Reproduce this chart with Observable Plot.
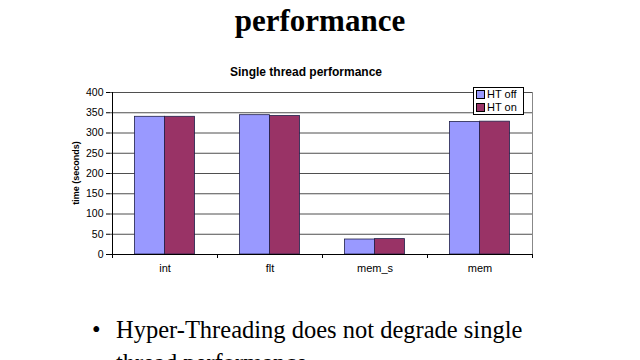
<!DOCTYPE html>
<html>
<head>
<meta charset="utf-8">
<script src="https://cdn.jsdelivr.net/npm/d3@7"></script>
<script src="https://cdn.jsdelivr.net/npm/@observablehq/plot@0.6"></script>
<style>
  html, body { margin: 0; padding: 0; background: #fff; width: 640px; height: 360px; overflow: hidden; position: relative; }
  #chart { position: absolute; left: 0; top: 0; }
  .slide-title { position: absolute; left: 0; width: 640px; top: 3px; text-align: center; font-family: "Liberation Serif", "Times New Roman", serif; font-weight: bold; font-size: 31px; line-height: 36px; color: #000; }
  .chart-title { position: absolute; left: 156px; width: 300px; top: 65px; text-align: center; font-family: "Liberation Sans", Arial, sans-serif; font-weight: bold; font-size: 12px; line-height: 14px; color: #000; }
  .ylabel { position: absolute; left: 76px; top: 173px; transform: translate(-50%, -50%) rotate(-90deg); font-family: "Liberation Sans", Arial, sans-serif; font-weight: bold; font-size: 9px; white-space: nowrap; }
  .legend { position: absolute; left: 473px; top: 87px; width: 51px; height: 28px; border: 1px solid #000; background: #fff; font-family: "Liberation Sans", Arial, sans-serif; font-size: 11px; line-height: 13px; padding-left: 2px; box-sizing: border-box; }
  .legend .sw { display: inline-block; width: 7px; height: 7px; border: 1px solid #000; margin-right: 2px; vertical-align: -1px; }
  .bullet { position: absolute; left: 92px; top: 313px; font-family: "Liberation Serif", "Times New Roman", serif; font-size: 24.5px; line-height: 33px; color: #000; }
  .bullet .dot { position: absolute; left: 0; }
  .bullet .txt { position: absolute; left: 24px; white-space: nowrap; }
</style>
</head>
<body>
<div id="chart"></div>
<div class="slide-title">performance</div>
<div class="chart-title">Single thread performance</div>
<div class="ylabel">time (seconds)</div>
<div class="legend" id="legend"></div>
<div class="bullet"><span class="dot">•</span><span class="txt">Hyper-Threading does not degrade single<br>thread performance</span></div>
<script>
const categories = ["int", "flt", "mem_s", "mem"];
const htOff = [340, 344, 37, 327];
const htOn = [340, 342, 38, 328];
const seriesNames = ["HT off", "HT on"];
const seriesColors = ["#9999FF", "#993366"];
const yTicks = [0, 50, 100, 150, 200, 250, 300, 350, 400];

const rows = categories.map((c, i) => ({cat: c, off: htOff[i], on: htOn[i]}));

const plot = Plot.plot({
  width: 640,
  height: 300,
  marginTop: 92,
  marginLeft: 110,
  marginRight: 107,
  marginBottom: 46,
  style: {fontFamily: "Liberation Sans, Arial, sans-serif", fontSize: "10px", color: "#000", background: "transparent"},
  x: {domain: categories, padding: 0, axis: null},
  y: {domain: [0, 400], axis: null},
  marks: [
    Plot.ruleY(yTicks.slice(1), {stroke: "#222", strokeWidth: 0.8}),
    Plot.ruleX([categories[categories.length - 1]], {dx: 52.5, y1: 0, y2: 400, stroke: "#888", strokeWidth: 1}),
    Plot.barY(rows, {x: "cat", y: "off", fill: seriesColors[0], stroke: "#20204a", strokeWidth: 0.8, insetLeft: 22.5, insetRight: 52.5}),
    Plot.barY(rows, {x: "cat", y: "on", fill: seriesColors[1], stroke: "#20204a", strokeWidth: 0.8, insetLeft: 52.5, insetRight: 22.5}),
    Plot.ruleY([0], {stroke: "#000", strokeWidth: 1}),
    Plot.ruleX([categories[0]], {dx: -52.5, y1: 0, y2: 400, stroke: "#000", strokeWidth: 1}),
    Plot.ruleX(categories, {dx: -52.5, y1: 0, y2: 0, insetBottom: -4, stroke: "#000"}),
    Plot.ruleX([categories[categories.length - 1]], {dx: 52.5, y1: 0, y2: 0, insetBottom: -4, stroke: "#000"}),
    Plot.axisY(yTicks, {tickSize: 4, tickPadding: 3, fontSize: 10.5, stroke: "#000", label: null}),
    Plot.axisX({tickSize: 0, tickPadding: 10, fontSize: 11, label: null})
  ]
});
document.getElementById("chart").appendChild(plot);

const legend = document.getElementById("legend");
seriesNames.forEach((n, i) => {
  const row = document.createElement("div");
  const sw = document.createElement("span");
  sw.className = "sw";
  sw.style.background = seriesColors[i];
  row.appendChild(sw);
  row.appendChild(document.createTextNode(n));
  legend.appendChild(row);
});
</script>
</body>
</html>
